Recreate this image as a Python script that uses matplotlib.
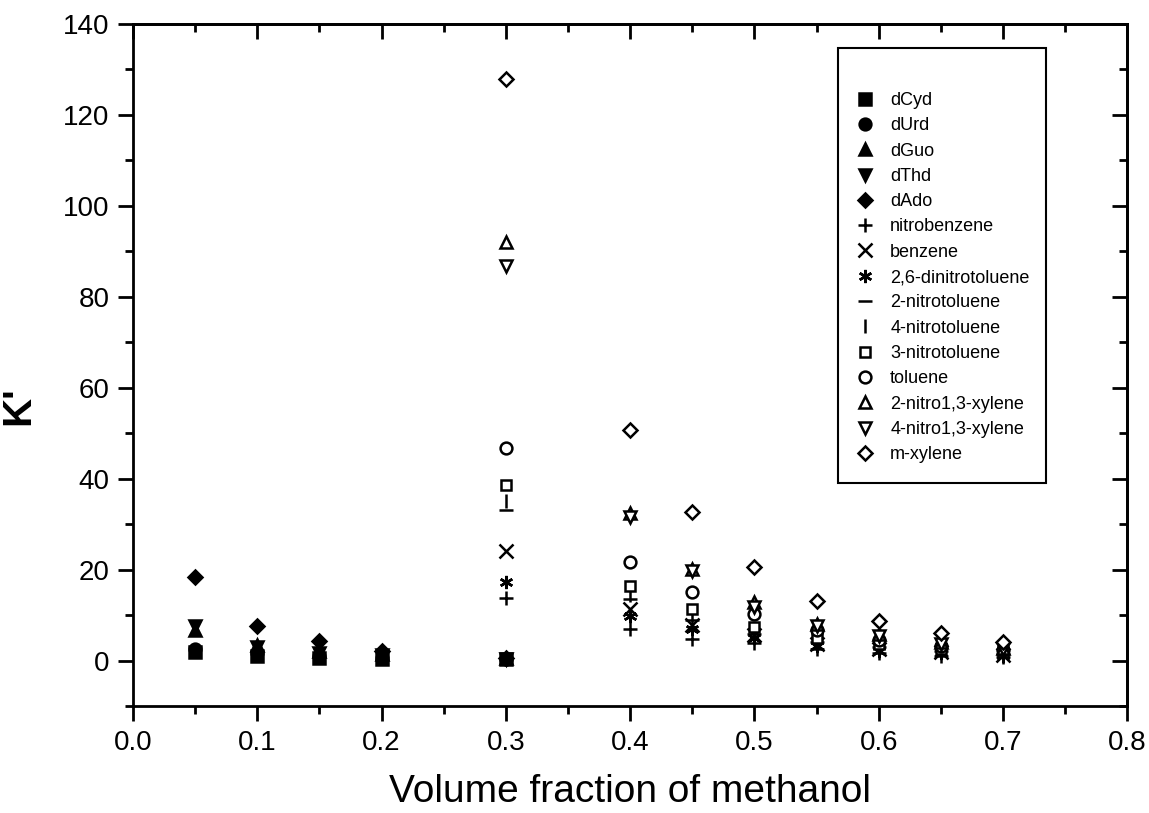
import matplotlib

matplotlib.use("Agg")

import matplotlib.pyplot as plt
from matplotlib.patches import Rectangle
from matplotlib.ticker import MultipleLocator

plt.rcParams["font.family"] = ["Liberation Sans", "DejaVu Sans"]

# ---------------------------------------------------------------------------
# Data (capacity factor k' vs methanol fraction)
# ---------------------------------------------------------------------------
X_NUC = [0.05, 0.10, 0.15, 0.20, 0.30]
X_ARO = [0.30, 0.40, 0.45, 0.50, 0.55, 0.60, 0.65, 0.70]

dCyd = [1.8, 1.0, 0.5, 0.3, 0.25]
dUrd = [2.6, 1.6, 0.9, 0.6, 0.3]
dGuo = [6.8, 3.5, 2.0, 1.5, 0.45]
dThd = [7.6, 3.0, 1.7, 1.2, 0.4]
dAdo = [18.3, 7.7, 4.3, 2.2, 0.6]

nitrobenzene = [13.8, 6.9, 4.8, 3.8, 2.5, 1.6, 1.1, 0.8]
benzene = [24.1, 11.3, 7.9, 5.6, 3.7, 2.6, 1.8, 1.2]
dinitrotoluene_26 = [17.3, 9.8, 6.9, 5.0, 3.3, 2.2, 1.6, 1.1]
nitrotoluene_2 = [33.2, 13.5, 9.0, 5.8, 4.0, 2.9, 2.0, 1.4]
nitrotoluene_4 = [35.1, 14.5, 9.8, 6.3, 4.3, 3.1, 2.2, 1.5]
nitrotoluene_3 = [38.6, 16.4, 11.3, 7.3, 5.0, 3.6, 2.6, 1.8]
toluene = [46.7, 21.7, 15.1, 10.2, 6.8, 4.6, 3.3, 2.3]
nitroxylene_2 = [92.0, 32.5, 20.2, 12.9, 8.0, 5.8, 4.0, 2.8]
nitroxylene_4 = [86.7, 31.5, 19.6, 11.8, 7.5, 5.3, 3.6, 2.5]
m_xylene = [127.9, 50.7, 32.6, 20.5, 13.0, 8.6, 6.1, 4.0]

SERIES = [
    ("dCyd", X_NUC, dCyd, "s", True),
    ("dUrd", X_NUC, dUrd, "o", True),
    ("dGuo", X_NUC, dGuo, "^", True),
    ("dThd", X_NUC, dThd, "v", True),
    ("dAdo", X_NUC, dAdo, "D", True),
    ("nitrobenzene", X_ARO, nitrobenzene, "+", False),
    ("benzene", X_ARO, benzene, "x", False),
    ("2,6-dinitrotoluene", X_ARO, dinitrotoluene_26, (6, 2, 0), False),
    ("2-nitrotoluene", X_ARO, nitrotoluene_2, "_", False),
    ("4-nitrotoluene", X_ARO, nitrotoluene_4, "|", False),
    ("3-nitrotoluene", X_ARO, nitrotoluene_3, "s", False),
    ("toluene", X_ARO, toluene, "o", False),
    ("2-nitro1,3-xylene", X_ARO, nitroxylene_2, "^", False),
    ("4-nitro1,3-xylene", X_ARO, nitroxylene_4, "v", False),
    ("m-xylene", X_ARO, m_xylene, "D", False),
]

# ---------------------------------------------------------------------------
fig = plt.figure(figsize=(11.49, 8.13), dpi=100)
ax = fig.add_axes([0.1158, 0.1316, 0.8652, 0.8389])

for label, xs, ys, mk, filled in SERIES:
    ms = 8.5
    if mk == "D":
        ms = 7.5
    elif mk in ("+", "x", "_", "|") or isinstance(mk, tuple):
        ms = 9.5
    elif mk == "s" and not filled:
        ms = 7.5
    ax.plot(xs, ys, ls="none", marker=mk, ms=ms,
            mfc="black" if filled else "white", mec="black", mew=1.8,
            label=label, zorder=3)

ax.set_xlim(0.0, 0.8)
ax.set_ylim(-10, 140)
ax.xaxis.set_major_locator(MultipleLocator(0.1))
ax.xaxis.set_minor_locator(MultipleLocator(0.05))
ax.yaxis.set_major_locator(MultipleLocator(20))
ax.yaxis.set_minor_locator(MultipleLocator(10))
ax.xaxis.set_major_formatter(plt.FuncFormatter(lambda v, p: f"{v:.1f}"))

for sp in ax.spines.values():
    sp.set_linewidth(2.0)
# Origin style: outward ticks on bottom/left, inward on top/right
ax.tick_params(which="both", direction="out", width=2.0, labelsize=20,
               top=False, right=False)
ax.tick_params(which="major", length=11, pad=6)
ax.tick_params(which="minor", length=6)

ax_t = ax.secondary_xaxis("top")
ax_t.xaxis.set_major_locator(MultipleLocator(0.1))
ax_t.xaxis.set_minor_locator(MultipleLocator(0.05))
ax_t.tick_params(which="both", direction="in", width=2.0, labeltop=False)
ax_t.tick_params(which="major", length=11)
ax_t.tick_params(which="minor", length=6)
ax_t.spines["top"].set_linewidth(2.0)
ax_r = ax.secondary_yaxis("right")
ax_r.yaxis.set_major_locator(MultipleLocator(20))
ax_r.yaxis.set_minor_locator(MultipleLocator(10))
ax_r.tick_params(which="both", direction="in", width=2.0, labelright=False)
ax_r.tick_params(which="major", length=11)
ax_r.tick_params(which="minor", length=6)
ax_r.spines["right"].set_linewidth(2.0)

ax.set_xlabel("Volume fraction of methanol", fontsize=28, labelpad=13)
ax.set_ylabel("K'", fontsize=29, fontweight="bold")
ax.yaxis.set_label_coords(-0.096, 0.44)

# legend frame drawn separately (taller empty margin on top than bottom)
ax.add_patch(Rectangle((0.7087, 0.3277), 0.2097, 0.6377, transform=ax.transAxes,
                       fill=False, ec="black", lw=1.5, zorder=4))
ax.legend(loc="upper left", bbox_to_anchor=(0.718, 0.911), frameon=False,
          fontsize=13, labelspacing=0.46, handletextpad=0.8, handlelength=1.2,
          borderaxespad=0, numpoints=1)

fig.savefig("out.png", dpi=100)
